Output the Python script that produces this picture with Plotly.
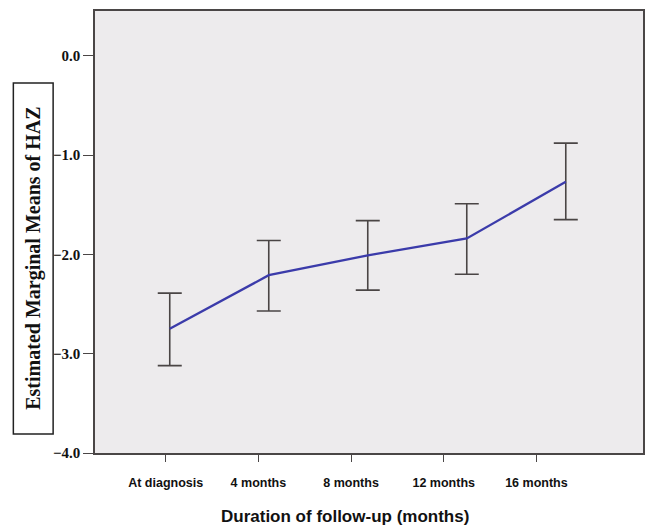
import plotly.graph_objects as go

categories = ["At diagnosis", "4 months", "8 months", "12 months", "16 months"]
means = [-2.75, -2.21, -2.01, -1.84, -1.27]
upper = [-2.39, -1.86, -1.66, -1.49, -0.88]
lower = [-3.12, -2.57, -2.36, -2.20, -1.65]
y_ticks = [0.0, -1.0, -2.0, -3.0, -4.0]

err_plus = [u - m for u, m in zip(upper, means)]
err_minus = [m - l for m, l in zip(means, lower)]

fig = go.Figure()
# invisible trace to hold the labelled category axis
fig.add_trace(go.Scatter(x=categories, y=[None] * len(categories), xaxis="x", yaxis="y",
                         mode="markers", showlegend=False, hoverinfo="skip"))
fig.add_trace(go.Scatter(
    x=categories, y=means, xaxis="x2", yaxis="y", mode="lines",
    line=dict(color="#3B3BAA", width=2.3),
    error_y=dict(type="data", symmetric=False, array=err_plus, arrayminus=err_minus,
                 color="#4a4545", thickness=1.6, width=12),
    showlegend=False,
))

fig.update_layout(
    width=648, height=527,
    margin=dict(l=95, r=3, t=11, b=74),
    paper_bgcolor="white",
    plot_bgcolor="#EDEBED",
    xaxis=dict(
        type="category", categoryorder="array", categoryarray=categories,
        range=[-0.763, 5.15],
        showgrid=False, zeroline=False,
        showline=True, linecolor="#4a4646", linewidth=1.6, mirror=True,
        ticks="outside", ticklen=7, tickwidth=1.4, tickcolor="#4a4646",
        ticklabelstandoff=10,
        tickfont=dict(family="Liberation Sans", size=12.5, color="#111111", weight="bold"),
    ),
    xaxis2=dict(
        type="category", categoryorder="array", categoryarray=categories,
        range=[-0.755, 4.78], overlaying="x", visible=False,
    ),
    yaxis=dict(
        range=[-4.0, 0.45],
        tickvals=y_ticks, tickformat=".1f",
        showgrid=False, zeroline=False,
        showline=True, linecolor="#4a4646", linewidth=1.6, mirror=True,
        ticks="outside", ticklen=10, tickwidth=1.4, tickcolor="#4a4646",
        tickfont=dict(family="Liberation Serif", size=15, color="#111111", weight="bold"),
    ),
    shapes=[dict(type="rect", xref="paper", yref="paper",
                 x0=-0.149, x1=-0.0764, y0=0.043, y1=0.837,
                 line=dict(color="#222222", width=1.5), fillcolor="white", layer="above")],
    annotations=[
        dict(text="Estimated Marginal Means of HAZ", xref="paper", yref="paper",
             x=-0.1127, y=0.44, textangle=-90, showarrow=False,
             xanchor="center", yanchor="middle",
             font=dict(family="Liberation Serif", size=20, color="#111111", weight="bold")),
        dict(text="Duration of follow-up (months)", xref="paper", yref="paper",
             x=(346 - 95) / 550, y=(453 - 516) / 442, showarrow=False,
             xanchor="center", yanchor="middle",
             font=dict(family="Liberation Sans", size=17, color="#111111", weight="bold")),
    ],
)

fig.write_html("out.html", config={"displayModeBar": False},
               post_script="document.body.style.margin='0';")
